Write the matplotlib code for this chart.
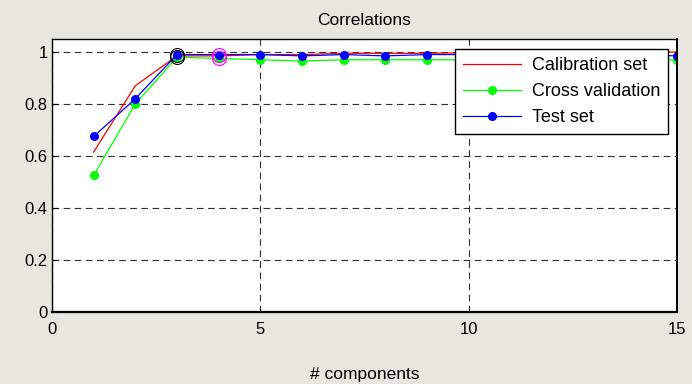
import matplotlib
matplotlib.use("Agg")
import matplotlib.pyplot as plt

plt.rcParams['font.family'] = ['Liberation Sans', 'DejaVu Sans']

# data
components = [1, 2, 3, 4, 5, 6, 7, 8, 9, 10, 11, 12, 13, 14, 15]
calibration = [0.615, 0.87, 0.985, 0.985, 0.99, 0.99, 0.995, 0.995, 0.995,
               0.997, 0.997, 0.998, 0.998, 0.999, 1.0]
cross_val = [0.525, 0.80, 0.98, 0.975, 0.97, 0.965, 0.97, 0.97, 0.97,
             0.97, 0.97, 0.97, 0.97, 0.97, 0.97]
test_set = [0.675, 0.82, 0.99, 0.99, 0.99, 0.985, 0.99, 0.985, 0.99,
            0.99, 0.99, 0.99, 0.99, 0.99, 0.985]

# highlighted optimum components
black_x = [3, 3]
black_y = [0.99, 0.98]
magenta_x = [4, 4]
magenta_y = [0.99, 0.978]

fig = plt.figure(figsize=(6.92, 3.84), dpi=100)
fig.patch.set_facecolor('#e7e7df')
ax = fig.add_axes([0.0751, 0.1875, 0.903, 0.711])
ax.set_facecolor('white')

ax.plot(components, calibration, color='red', lw=0.9, label='Calibration set')
ax.plot(components, cross_val, color='#00ff00', lw=0.9, marker='o', ms=5.5,
        label='Cross validation')
ax.plot(components, test_set, color='blue', lw=0.9, marker='o', ms=5.5,
        label='Test set')
ax.plot(black_x, black_y, ls='none', marker='o', ms=10, mfc='none',
        mec='black', mew=0.8)
ax.plot(magenta_x, magenta_y, ls='none', marker='o', ms=10, mfc='none',
        mec='magenta', mew=0.8)

ax.set_xlim(0, 15)
ax.set_ylim(0, 1.05)
ax.set_xticks([0, 5, 10, 15])
ax.set_yticks([0, 0.2, 0.4, 0.6, 0.8, 1])
ax.set_yticklabels(['0', '0.2', '0.4', '0.6', '0.8', '1'])
ax.tick_params(labelsize=12, direction='in', length=4, width=0.8, pad=3)
ax.tick_params(axis='x', pad=7)
ax.grid(True, color='#303030', ls=(0, (6, 4)), lw=0.8)
for s in ax.spines.values():
    s.set_linewidth(1.0)
ax.spines['bottom'].set_linewidth(1.6)
ax.spines['right'].set_linewidth(1.4)

ax.set_title('Correlations', fontsize=12.5, pad=10)
ax.set_xlabel('# components', fontsize=12.5, labelpad=22)

leg = ax.legend(loc='upper right', bbox_to_anchor=(668 / 692, 1 - 49 / 384),
                bbox_transform=fig.transFigure, fontsize=13, fancybox=False,
                framealpha=1, edgecolor='black', borderaxespad=0,
                handlelength=3.2, labelspacing=0.5, borderpad=0.45,
                handletextpad=0.6)
leg.get_frame().set_linewidth(1.0)

fig.savefig('out.png', dpi=100, facecolor=fig.get_facecolor())
